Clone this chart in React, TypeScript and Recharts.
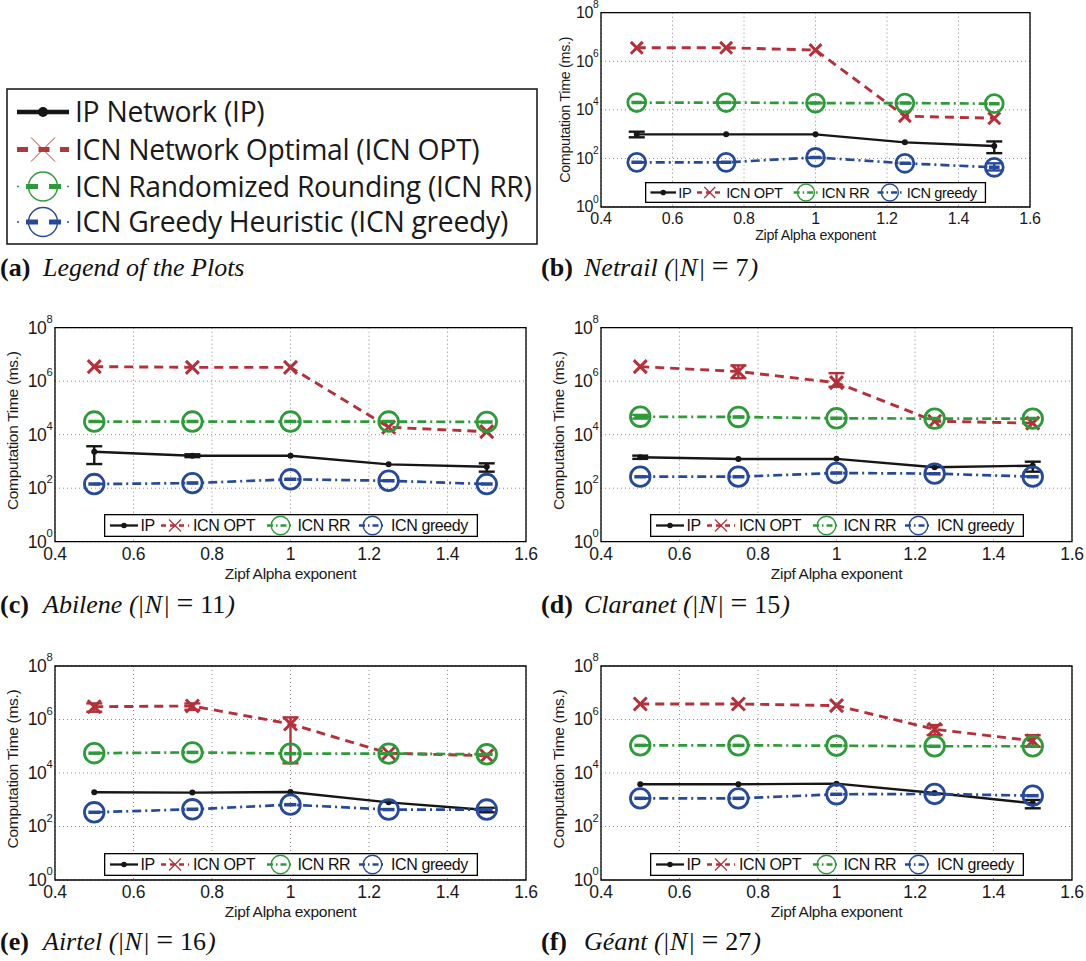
import React from 'react';
import { LineChart, Line, XAxis, YAxis, CartesianGrid, ReferenceArea, ErrorBar, Legend } from 'recharts';

// ---------- shared axis data ----------
const alphaValues = [0.5, 0.75, 1, 1.25, 1.5];
const xTicks = [0.4, 0.6, 0.8, 1, 1.2, 1.4, 1.6];
const xTickLabels = ['0.4', '0.6', '0.8', '1', '1.2', '1.4', '1.6'];
const yTicks = [1, 1e2, 1e4, 1e6, 1e8];
const yTickExponents = ['0', '2', '4', '6', '8'];

const seriesShortNames = ['IP', 'ICN OPT', 'ICN RR', 'ICN greedy'];
const seriesLongNames = [
  'IP Network (IP)',
  'ICN Network Optimal (ICN OPT)',
  'ICN Randomized Rounding (ICN RR)',
  'ICN Greedy Heuristic (ICN greedy)',
];

const captionTags = ['a', 'b', 'c', 'd', 'e', 'f'];
const networkNames = ['Netrail', 'Abilene', 'Claranet', 'Airtel', 'Géant'];
const networkSizes = [7, 11, 15, 16, 27];

// ---------- (b) Netrail ----------
const netrailIP = [980, 980, 980, 460, 325];
const netrailIPErr = [[240, 280], null, null, null, [160, 175]];
const netrailOPT = [3.6e6, 3.6e6, 2.9e6, 5.5e3, 4.5e3];
const netrailOPTErr = [null, null, null, null, null];
const netrailRR = [2.0e4, 2.0e4, 1.9e4, 1.9e4, 1.8e4];
const netrailRRErr = [null, null, null, null, null];
const netrailGreedy = [69, 69, 110, 63, 43];
const netrailGreedyErr = [null, null, null, null, [11, 20]];

// ---------- (c) Abilene ----------
const abileneIP = [2300, 1630, 1630, 780, 630];
const abileneIPErr = [[1500, 1400], [180, 220], null, null, [215, 220]];
const abileneOPT = [3.5e6, 3.3e6, 3.3e6, 1.9e4, 1.3e4];
const abileneOPTErr = [null, null, null, null, null];
const abileneRR = [3.1e4, 3.1e4, 3.1e4, 3.1e4, 3.0e4];
const abileneRRErr = [null, null, null, null, null];
const abileneGreedy = [143, 155, 215, 190, 143];
const abileneGreedyErr = [null, null, null, null, null];

// ---------- (d) Claranet ----------
const claranetIP = [1430, 1230, 1250, 605, 695];
const claranetIPErr = [[180, 220], null, null, null, [280, 285]];
const claranetOPT = [3.5e6, 2.3e6, 8.8e5, 3.2e4, 2.7e4];
const claranetOPTErr = [null, [1.0e6, 1.6e6], [2.6e5, 1.12e6], null, null];
const claranetRR = [4.7e4, 4.6e4, 4.1e4, 4.0e4, 4.0e4];
const claranetRRErr = [[7e3, 8e3], null, null, null, null];
const claranetGreedy = [270, 270, 370, 350, 270];
const claranetGreedyErr = [null, null, null, null, null];

// ---------- (e) Airtel ----------
const airtelIP = [1900, 1850, 1950, 800, 415];
const airtelIPErr = [null, null, null, null, [75, 85]];
const airtelOPT = [3.0e6, 3.2e6, 6.8e5, 5.5e4, 4.4e4];
const airtelOPTErr = [[1.05e6, 1.0e6], [0.9e6, 0.8e6], [6.57e5, 5.2e5], null, null];
const airtelRR = [5.5e4, 5.9e4, 5.3e4, 5.3e4, 5.0e4];
const airtelRRErr = [null, null, null, null, null];
const airtelGreedy = [340, 440, 655, 430, 430];
const airtelGreedyErr = [null, null, null, null, null];

// ---------- (f) Géant ----------
const geantIP = [3800, 3800, 4000, 1780, 735];
const geantIPErr = [null, null, null, null, [255, 245]];
const geantOPT = [3.8e6, 3.8e6, 3.3e6, 4.3e5, 1.6e5];
const geantOPTErr = [null, null, null, [1.7e5, 1.9e5], [6.4e4, 1.0e5]];
const geantRR = [1.08e5, 1.08e5, 1.05e5, 1.0e5, 1.0e5];
const geantRRErr = [null, null, null, null, null];
const geantGreedy = [1130, 1130, 1600, 1650, 1420];
const geantGreedyErr = [null, null, null, null, null];

// ---------- styling ----------
const C_IP = '#161616';
const C_OPT = '#b3313b';
const C_RR = '#2f9a3a';
const C_GR = '#274a98';
const SANS = "'Liberation Sans', Arial, Helvetica, sans-serif";
const SERIF = "'Liberation Serif', 'Times New Roman', serif";

function buildRows(ip: any[], ipErr: any[], opt: any[], optErr: any[], rr: any[], rrErr: any[], gr: any[], grErr: any[]) {
  return alphaValues.map((a, i) => ({
    alpha: a,
    ip: ip[i], ipErr: ipErr[i],
    opt: opt[i], optErr: optErr[i],
    rr: rr[i], rrErr: rrErr[i],
    greedy: gr[i], greedyErr: grErr[i],
  }));
}

function XMark({ cx, cy, h, stroke, sw }: any) {
  return (
    <g>
      <line x1={cx - h} y1={cy - h} x2={cx + h} y2={cy + h} stroke={stroke} strokeWidth={sw} />
      <line x1={cx - h} y1={cy + h} x2={cx + h} y2={cy - h} stroke={stroke} strokeWidth={sw} />
    </g>
  );
}

function OMark({ cx, cy, r, stroke, sw, bar }: any) {
  return (
    <g>
      <circle cx={cx} cy={cy} r={r} fill="none" stroke={stroke} strokeWidth={sw} />
      {bar ? <line x1={cx - r * 0.6} y1={cy} x2={cx + r * 0.6} y2={cy} stroke={stroke} strokeWidth={sw * 1.25} /> : null}
    </g>
  );
}

function PanelLegend({ s, fs }: any) {
  const w = 374 * s;
  const h = 23 * s;
  const cy = h / 2;
  const ty = cy + fs * 0.36;
  const P = (v: number) => v * s;
  return (
    <svg width={w} height={h} style={{ display: 'block', overflow: 'visible' }}>
      <rect x={0.65} y={0.65} width={w - 1.3} height={h - 1.3} fill="#fff" stroke="#000" strokeWidth={1.3} />
      {/* IP */}
      <line x1={P(6)} y1={cy} x2={P(34)} y2={cy} stroke={C_IP} strokeWidth={2.3} />
      <circle cx={P(20)} cy={cy} r={2.8} fill={C_IP} />
      <text x={P(36.5)} y={ty} fontSize={fs} fontFamily={SANS} letterSpacing={-0.4} fill="#111">{seriesShortNames[0]}</text>
      {/* OPT */}
      <line x1={P(57)} y1={cy} x2={P(85)} y2={cy} stroke={C_OPT} strokeWidth={2.3} strokeDasharray="5 4" />
      <XMark cx={P(71)} cy={cy} h={6 * s} stroke={C_OPT} sw={1.3} />
      <text x={P(89)} y={ty} fontSize={fs} fontFamily={SANS} letterSpacing={-0.4} fill="#111">{seriesShortNames[1]}</text>
      {/* RR */}
      <line x1={P(163)} y1={cy} x2={P(190)} y2={cy} stroke={C_RR} strokeWidth={2.3} strokeDasharray="6 3 1.5 3" />
      <OMark cx={P(176.5)} cy={cy} r={9.3 * s} stroke={C_RR} sw={1.4} />
      <text x={P(193.5)} y={ty} fontSize={fs} fontFamily={SANS} letterSpacing={-0.4} fill="#111">{seriesShortNames[2]}</text>
      {/* greedy */}
      <line x1={P(255)} y1={cy} x2={P(282)} y2={cy} stroke={C_GR} strokeWidth={2.3} strokeDasharray="6 3 1.5 3" />
      <OMark cx={P(268.5)} cy={cy} r={9.3 * s} stroke={C_GR} sw={1.4} />
      <text x={P(287)} y={ty} fontSize={fs} fontFamily={SANS} letterSpacing={-0.4} fill="#111">{seriesShortNames[3]}</text>
    </svg>
  );
}

type Spec = {
  id: string;
  left: number; top: number; width: number; height: number;
  plotLeft: number; plotTop: number; plotRight: number; plotBottom: number;
  s: number;
  tickFs: number; labelFs: number; legendFs: number;
  xTickDy: number; xLabelDy: number; yLabelGap: number; yLabelShift: number;
  rows: any[];
};

function Panel({ spec }: { spec: Spec }) {
  const { width, height, plotLeft, plotTop, plotRight, plotBottom, s, tickFs, labelFs, legendFs, rows } = spec;
  const xAxisH = 30;
  const margin = { top: plotTop, left: 0, right: width - plotRight, bottom: height - plotBottom - xAxisH };
  const cxPlot = (plotLeft + plotRight) / 2;
  const cyPlot = (plotTop + plotBottom) / 2;
  const legW = 374 * s;
  const legH = 23 * s;
  const circR = 9.8 * s;
  const circSW = 2.8;
  const xh = 6.5 * s;

  const XTick = (p: any) => {
    const i = xTicks.findIndex((t) => Math.abs(t - p.payload.value) < 1e-6);
    return (
      <text x={p.x} y={plotBottom + spec.xTickDy} textAnchor="middle" fontSize={tickFs} fontFamily={SANS} letterSpacing={-0.3} fill="#1a1a1a">
        {xTickLabels[i]}
      </text>
    );
  };
  const YTick = (p: any) => {
    const i = yTicks.findIndex((t) => Math.abs(Math.log10(t) - Math.log10(p.payload.value)) < 1e-6);
    return (
      <text x={plotLeft - 2.5} y={p.y + tickFs * 0.34} textAnchor="end" fontSize={tickFs} fontFamily={SANS} letterSpacing={-0.3} fill="#1a1a1a">
        10<tspan dy={-tickFs * 0.62} fontSize={tickFs * 0.64}>{yTickExponents[i]}</tspan>
      </text>
    );
  };

  return (
    <LineChart width={width} height={height} data={rows} margin={margin}>
      <CartesianGrid stroke="#8a8a8a" strokeDasharray="1 3" strokeWidth={1} />
      <XAxis
        dataKey="alpha"
        type="number"
        domain={[0.4, 1.6]}
        ticks={xTicks}
        allowDataOverflow
        height={xAxisH}
        axisLine={false}
        tickLine={false}
        tickSize={0}
        tickMargin={0}
        tick={XTick}
        interval={0}
        label={{
          content: () => (
            <text x={cxPlot} y={plotBottom + spec.xLabelDy} textAnchor="middle" fontSize={labelFs} fontFamily={SANS} letterSpacing={-0.3} fill="#1a1a1a">
              Zipf Alpha exponent
            </text>
          ),
        }}
      />
      <YAxis
        scale="log"
        domain={[1, 1e8]}
        ticks={yTicks}
        allowDataOverflow
        width={plotLeft}
        axisLine={false}
        tickLine={false}
        tickSize={0}
        tickMargin={0}
        tick={YTick}
        interval={0}
        label={{
          content: () => (
            <text
              x={plotLeft - spec.yLabelGap}
              y={cyPlot + spec.yLabelShift}
              textAnchor="middle"
              fontSize={labelFs}
              fontFamily={SANS}
              letterSpacing={-0.3}
              fill="#1a1a1a"
              transform={`rotate(-90 ${plotLeft - spec.yLabelGap} ${cyPlot + spec.yLabelShift})`}
            >
              Computation Time (ms.)
            </text>
          ),
        }}
      />
      <ReferenceArea x1={0.4} x2={1.6} y1={1} y2={1e8} fill="none" stroke="#000" strokeWidth={1.3} ifOverflow="visible" />
      <Line
        dataKey="ip"
        stroke={C_IP}
        strokeWidth={2.4}
        isAnimationActive={false}
        dot={(p: any) => <circle key={`ip-${p.index}`} cx={p.cx} cy={p.cy} r={3} fill={C_IP} />}
      >
        <ErrorBar dataKey="ipErr" width={8} strokeWidth={2.4} stroke={C_IP} direction="y" />
      </Line>
      <Line
        dataKey="opt"
        stroke={C_OPT}
        strokeWidth={2.9}
        strokeDasharray="9 6"
        isAnimationActive={false}
        dot={(p: any) => <XMark key={`opt-${p.index}`} cx={p.cx} cy={p.cy} h={xh} stroke={C_OPT} sw={3} />}
      >
        <ErrorBar dataKey="optErr" width={8} strokeWidth={2.4} stroke={C_OPT} direction="y" />
      </Line>
      <Line
        dataKey="rr"
        stroke={C_RR}
        strokeWidth={2.7}
        strokeDasharray="9 4 2 4"
        isAnimationActive={false}
        dot={(p: any) => <OMark key={`rr-${p.index}`} cx={p.cx} cy={p.cy} r={circR} stroke={C_RR} sw={circSW} bar />}
      >
        <ErrorBar dataKey="rrErr" width={8} strokeWidth={2.4} stroke={C_RR} direction="y" />
      </Line>
      <Line
        dataKey="greedy"
        stroke={C_GR}
        strokeWidth={2.7}
        strokeDasharray="9 4 2 4"
        isAnimationActive={false}
        dot={(p: any) => <OMark key={`gr-${p.index}`} cx={p.cx} cy={p.cy} r={circR} stroke={C_GR} sw={circSW} bar />}
      >
        <ErrorBar dataKey="greedyErr" width={8} strokeWidth={2.4} stroke={C_GR} direction="y" />
      </Line>
      <Legend
        layout="horizontal"
        verticalAlign="middle"
        align="center"
        wrapperStyle={{ left: cxPlot - legW / 2, top: plotBottom - 4.5 - legH, width: legW, height: legH, padding: 0, margin: 0 }}
        content={() => <PanelLegend s={s} fs={legendFs} />}
      />
    </LineChart>
  );
}

const bigPanelBase = { s: 1, tickFs: 17.5, labelFs: 15.5, legendFs: 16, xTickDy: 18.3, xLabelDy: 37, yLabelGap: 37, yLabelShift: -4 };

const specs: Spec[] = [
  {
    id: 'b', left: 541, top: 0, width: 545, height: 250,
    plotLeft: 60, plotTop: 12.7, plotRight: 489, plotBottom: 207,
    s: 0.912, tickFs: 16, labelFs: 14.3, legendFs: 14.6, xTickDy: 16.5, xLabelDy: 33, yLabelGap: 31, yLabelShift: 0,
    rows: buildRows(netrailIP, netrailIPErr, netrailOPT, netrailOPTErr, netrailRR, netrailRRErr, netrailGreedy, netrailGreedyErr),
  },
  {
    id: 'c', left: 0, top: 310, width: 540, height: 280,
    plotLeft: 55, plotTop: 17.7, plotRight: 526, plotBottom: 231.7, ...bigPanelBase,
    rows: buildRows(abileneIP, abileneIPErr, abileneOPT, abileneOPTErr, abileneRR, abileneRRErr, abileneGreedy, abileneGreedyErr),
  },
  {
    id: 'd', left: 541, top: 310, width: 545, height: 280,
    plotLeft: 60, plotTop: 17.7, plotRight: 531, plotBottom: 231.7, ...bigPanelBase,
    rows: buildRows(claranetIP, claranetIPErr, claranetOPT, claranetOPTErr, claranetRR, claranetRRErr, claranetGreedy, claranetGreedyErr),
  },
  {
    id: 'e', left: 0, top: 650, width: 540, height: 280,
    plotLeft: 55, plotTop: 16, plotRight: 526, plotBottom: 230, ...bigPanelBase,
    rows: buildRows(airtelIP, airtelIPErr, airtelOPT, airtelOPTErr, airtelRR, airtelRRErr, airtelGreedy, airtelGreedyErr),
  },
  {
    id: 'f', left: 541, top: 650, width: 545, height: 280,
    plotLeft: 60, plotTop: 16, plotRight: 531, plotBottom: 230, ...bigPanelBase,
    rows: buildRows(geantIP, geantIPErr, geantOPT, geantOPTErr, geantRR, geantRRErr, geantGreedy, geantGreedyErr),
  },
];

const captionPos = [
  { x: 0, y: 276 },
  { x: 541, y: 276 },
  { x: 0, y: 613 },
  { x: 541, y: 613 },
  { x: 0, y: 950 },
  { x: 541, y: 950 },
];

function Caption({ i }: { i: number }) {
  const { x, y } = captionPos[i];
  const fs = 26;
  return (
    <text x={x} y={y} fontFamily={SERIF} fontSize={fs} fill="#111">
      <tspan fontWeight="bold">({captionTags[i]})</tspan>
      {i === 0 ? (
        <tspan x={x + 43} fontStyle="italic">Legend of the Plots</tspan>
      ) : (
        <>
          <tspan x={x + 43} fontStyle="italic">{networkNames[i - 1]} (</tspan>
          <tspan dx={1}>|</tspan>
          <tspan dx={1} fontStyle="italic">N</tspan>
          <tspan dx={2}>|</tspan>
          <tspan dx={7} fontSize={fs * 1.15}>=</tspan>
          <tspan dx={7}>{networkSizes[i - 1]}</tspan>
          <tspan dx={1} fontStyle="italic">)</tspan>
        </>
      )}
    </text>
  );
}

function BigLegend() {
  const rowsY = [112, 149.5, 186.5, 222];
  const x0 = 17;
  const x1 = 69;
  const cx = 43;
  const tx = 75;
  const fs = 28.3;
  const LFONT = "'Open Sans', 'Noto Sans', sans-serif";
  return (
    <g>
      <rect x={7} y={89} width={530} height={155} fill="#fff" stroke="#111" strokeWidth={1.5} />
      {/* IP */}
      <line x1={x0} y1={rowsY[0]} x2={x1} y2={rowsY[0]} stroke={C_IP} strokeWidth={4.5} />
      <circle cx={cx} cy={rowsY[0]} r={5} fill={C_IP} />
      {/* OPT */}
      <line x1={x0} y1={rowsY[1]} x2={x1} y2={rowsY[1]} stroke="#a8393c" strokeWidth={5} strokeDasharray="11 10.5" />
      <XMark cx={cx} cy={rowsY[1]} h={12} stroke="#c0393c" sw={1} />
      {/* RR */}
      <line x1={x0} y1={rowsY[2]} x2={x0 + 2} y2={rowsY[2]} stroke={C_RR} strokeWidth={1.5} />
      <line x1={26} y1={rowsY[2]} x2={38} y2={rowsY[2]} stroke={C_RR} strokeWidth={5} />
      <line x1={49} y1={rowsY[2]} x2={61} y2={rowsY[2]} stroke={C_RR} strokeWidth={5} />
      <line x1={x1 - 2} y1={rowsY[2]} x2={x1} y2={rowsY[2]} stroke={C_RR} strokeWidth={1.5} />
      <circle cx={cx} cy={rowsY[2]} r={14.5} fill="none" stroke={C_RR} strokeWidth={1.4} />
      {/* greedy */}
      <line x1={x0} y1={rowsY[3]} x2={x0 + 2} y2={rowsY[3]} stroke={C_GR} strokeWidth={1.5} />
      <line x1={26} y1={rowsY[3]} x2={38} y2={rowsY[3]} stroke={C_GR} strokeWidth={5} />
      <line x1={49} y1={rowsY[3]} x2={61} y2={rowsY[3]} stroke={C_GR} strokeWidth={5} />
      <line x1={x1 - 2} y1={rowsY[3]} x2={x1} y2={rowsY[3]} stroke={C_GR} strokeWidth={1.5} />
      <circle cx={cx} cy={rowsY[3]} r={14.5} fill="none" stroke={C_GR} strokeWidth={1.4} />
      {seriesLongNames.map((n, i) => (
        <text key={n} x={tx} y={rowsY[i] + fs * 0.36} fontSize={fs} fontFamily={LFONT} letterSpacing={-0.3} fill="#1a1a1a">
          {n}
        </text>
      ))}
    </g>
  );
}

export default function App() {
  return (
    <div style={{ position: 'absolute', left: 0, top: 0, width: 1086, height: 961, background: '#fff', overflow: 'hidden' }}>
      {specs.map((sp) => (
        <div key={sp.id} style={{ position: 'absolute', left: sp.left, top: sp.top, width: sp.width, height: sp.height }}>
          <Panel spec={sp} />
        </div>
      ))}
      <svg width={1086} height={961} style={{ position: 'absolute', left: 0, top: 0, pointerEvents: 'none' }}>
        <BigLegend />
        {captionTags.map((t, i) => (
          <Caption key={t} i={i} />
        ))}
      </svg>
    </div>
  );
}
